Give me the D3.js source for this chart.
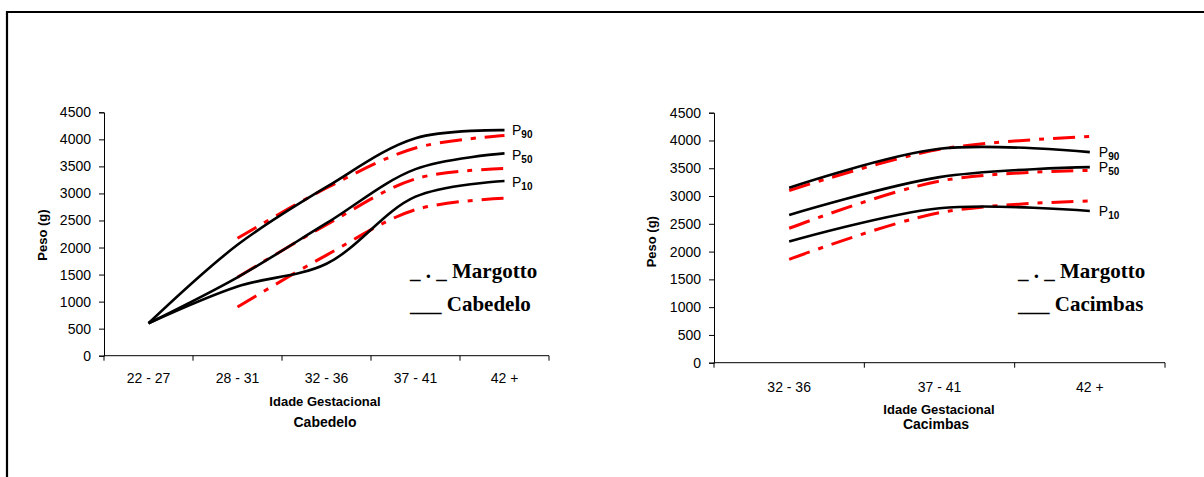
<!DOCTYPE html>
<html>
<head>
<meta charset="utf-8">
<script src="https://cdn.jsdelivr.net/npm/d3@7"></script>
<style>
  html, body { margin: 0; padding: 0; background: #fff; }
  svg { display: block; }
</style>
</head>
<body>
<svg id="chart" width="1204" height="477"></svg>
<script>
// ---------------- DATA ----------------
const leftCategories = ["22 - 27", "28 - 31", "32 - 36", "37 - 41", "42 +"];
const rightCategories = ["32 - 36", "37 - 41", "42 +"];
const yTickValues = [0, 500, 1000, 1500, 2000, 2500, 3000, 3500, 4000, 4500];

// Cabedelo (black solid)
const cabedeloP90 = [600, 2050, 3120, 4020, 4170];
const cabedeloP50 = [600, 1450, 2450, 3450, 3740];
const cabedeloP10 = [600, 1280, 1700, 2940, 3230];

// Margotto reference (red dash-dot)
const margottoCategories = ["28 - 31", "32 - 36", "37 - 41", "42 +"];
const margottoP90 = [2170, 3100, 3840, 4070];
const margottoP50 = [1450, 2420, 3270, 3460];
const margottoP10 = [900, 1860, 2700, 2910];

// Cacimbas (black solid)
const cacimbasP90 = [3150, 3850, 3790];
const cacimbasP50 = [2660, 3340, 3520];
const cacimbasP10 = [2180, 2780, 2730];

const percentileNames = ["90", "50", "10"];

// ---------------- DRAW ----------------
const svg = d3.select("#chart");
svg.append("rect").attr("width", 1204).attr("height", 477).attr("fill", "#fff");

// frame
svg.append("path")
  .attr("d", "M7,477 L7,12 L1204,12")
  .attr("fill", "none").attr("stroke", "#000").attr("stroke-width", 2.2);

function drawPanel(cfg) {
  const g = svg.append("g");
  const x = d3.scaleBand().domain(cfg.categories).range([cfg.x0, cfg.x1]);
  const y = d3.scaleLinear().domain([0, 4500]).range([cfg.yBottom, cfg.yTop]);
  const cx = c => x(c) + x.bandwidth() / 2;

  // y axis
  const yAxis = d3.axisLeft(y).tickValues(yTickValues).tickSize(5).tickPadding(8).tickFormat(d3.format("d"));
  const ya = g.append("g").attr("transform", `translate(${cfg.x0},0)`).call(yAxis);
  ya.select(".domain").attr("stroke", "#000").attr("stroke-width", 1);
  ya.selectAll(".tick line").attr("stroke", "#000");
  ya.selectAll("text").attr("font-family", "Liberation Sans, Arial, sans-serif")
    .attr("font-size", 14).attr("fill", "#000");

  // x axis: ticks at category boundaries
  const xAxisG = g.append("g").attr("transform", `translate(0,${cfg.yBottom})`);
  xAxisG.append("line").attr("x1", cfg.x0).attr("x2", cfg.x1).attr("y1", 0).attr("y2", 0)
    .attr("stroke", "#000").attr("stroke-width", 1);
  const bounds = cfg.categories.map(c => x(c)).concat([cfg.x1]);
  xAxisG.selectAll("line.tk").data(bounds).enter().append("line").attr("class", "tk")
    .attr("x1", d => d).attr("x2", d => d).attr("y1", 0).attr("y2", 5)
    .attr("stroke", "#000").attr("stroke-width", 1);
  xAxisG.selectAll("text").data(cfg.categories).enter().append("text")
    .attr("x", d => cx(d)).attr("y", cfg.xLabelDy)
    .attr("text-anchor", "middle")
    .attr("font-family", "Liberation Sans, Arial, sans-serif").attr("font-size", 14)
    .text(d => d);

  // axis titles
  g.append("text")
    .attr("transform", `translate(${cfg.yTitleX},${cfg.yTitleY}) rotate(-90)`)
    .attr("text-anchor", "middle")
    .attr("font-family", "Liberation Sans, Arial, sans-serif").attr("font-size", 13)
    .attr("font-weight", "bold").text("Peso (g)");
  g.append("text").attr("x", cfg.xTitleX).attr("y", cfg.xTitleY)
    .attr("text-anchor", "middle")
    .attr("font-family", "Liberation Sans, Arial, sans-serif").attr("font-size", 13)
    .attr("font-weight", "bold").text("Idade Gestacional");
  g.append("text").attr("x", cfg.nameX).attr("y", cfg.nameY)
    .attr("text-anchor", "middle")
    .attr("font-family", "Liberation Sans, Arial, sans-serif").attr("font-size", cfg.nameSize)
    .attr("font-weight", "bold").text(cfg.name);

  const line = d3.line().curve(d3.curveCatmullRom.alpha(0.5))
    .x(d => cx(d.c)).y(d => y(d.v));

  // red Margotto
  cfg.red.forEach(series => {
    const pts = margottoCategories.map((c, i) => ({ c, v: series[i] }))
      .filter(p => cfg.categories.includes(p.c));
    g.append("path").attr("d", line(pts)).attr("fill", "none")
      .attr("stroke", "#ff0000").attr("stroke-width", 3)
      .attr("stroke-dasharray", "22,9,5,9");
  });
  // black local
  cfg.black.forEach(series => {
    const pts = cfg.categories.map((c, i) => ({ c, v: series[i] }));
    g.append("path").attr("d", line(pts)).attr("fill", "none")
      .attr("stroke", "#000").attr("stroke-width", 2.6);
  });

  // percentile labels
  const lastC = cfg.categories[cfg.categories.length - 1];
  cfg.black.forEach((series, i) => {
    const t = g.append("text")
      .attr("x", cx(lastC) + cfg.pDx)
      .attr("y", y(series[series.length - 1]) + cfg.pDy[i])
      .attr("font-family", "Liberation Sans, Arial, sans-serif").attr("font-size", 14);
    t.append("tspan").text("P");
    t.append("tspan").attr("dy", 3).attr("font-size", 10).attr("font-weight", "bold")
      .text(percentileNames[i]);
  });

  // legend
  g.append("text").attr("x", cfg.legX).attr("y", cfg.legY1)
    .attr("font-family", "Liberation Serif, Times New Roman, serif").attr("font-size", 21)
    .attr("font-weight", "bold").attr("xml:space", "preserve").style("white-space", "pre")
    .text("_ . _ Margotto");
  g.append("text").attr("x", cfg.legX).attr("y", cfg.legY2)
    .attr("font-family", "Liberation Serif, Times New Roman, serif").attr("font-size", 21)
    .attr("font-weight", "bold").attr("xml:space", "preserve").style("white-space", "pre")
    .text("___ " + cfg.name);
}

drawPanel({
  categories: leftCategories, x0: 104, x1: 549, yTop: 112.3, yBottom: 355.7,
  xLabelDy: 27, yTitleX: 47, yTitleY: 235,
  xTitleX: 325, xTitleY: 405.5, name: "Cabedelo", nameX: 325, nameY: 426.5, nameSize: 14,
  black: [cabedeloP90, cabedeloP50, cabedeloP10],
  red: [margottoP90, margottoP50, margottoP10],
  pDx: 7.5, pDy: [5, 6.5, 6],
  legX: 410, legY1: 278, legY2: 311
});

drawPanel({
  categories: rightCategories, x0: 714, x1: 1165, yTop: 112.7, yBottom: 362.7,
  xLabelDy: 29, yTitleX: 656, yTitleY: 241.7,
  xTitleX: 939, xTitleY: 414.3, name: "Cacimbas", nameX: 936, nameY: 429.3, nameSize: 14,
  black: [cacimbasP90, cacimbasP50, cacimbasP10],
  red: [margottoP90, margottoP50, margottoP10],
  pDx: 9, pDy: [4.6, 4.6, 5],
  legX: 1018, legY1: 278, legY2: 311
});
</script>
</body>
</html>
